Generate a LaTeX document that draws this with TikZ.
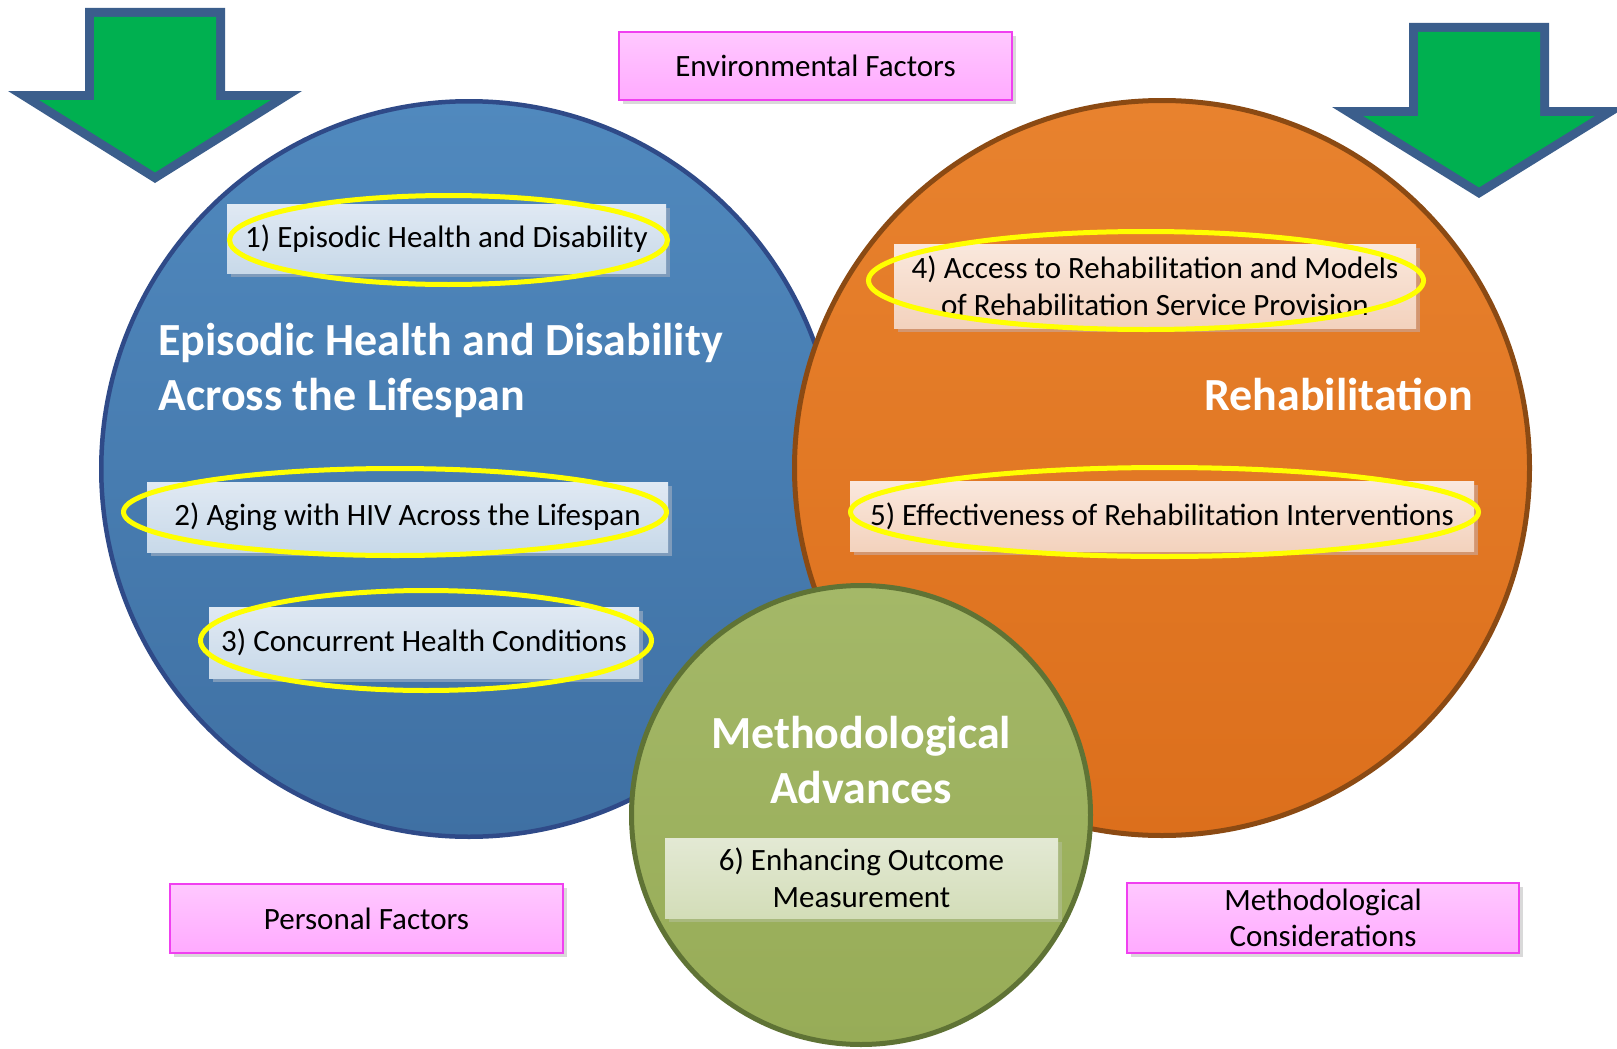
\documentclass[tikz,border=0pt]{standalone}
\usepackage{fontspec}
\setmainfont{Carlito}
\usetikzlibrary{shapes.geometric,shadows}
\definecolor{arrowgreen}{HTML}{00B050}
\definecolor{arrowedge}{HTML}{3B5E8C}
\definecolor{bluetop}{HTML}{5089BE}
\definecolor{bluebot}{HTML}{3F70A3}
\definecolor{blueedge}{HTML}{2F4A88}
\definecolor{orangetop}{HTML}{E8822E}
\definecolor{orangebot}{HTML}{DC6F1C}
\definecolor{orangeedge}{HTML}{8B4A13}
\definecolor{greentop}{HTML}{A4B868}
\definecolor{greenbot}{HTML}{97AC57}
\definecolor{greenedge}{HTML}{5F7335}
\definecolor{bbtop}{HTML}{E0E9F3}
\definecolor{bbbot}{HTML}{C8D9E9}
\definecolor{bbsh}{HTML}{7E9BBB}
\definecolor{obtop}{HTML}{FAE8DD}
\definecolor{obbot}{HTML}{F3D2BD}
\definecolor{obsh}{HTML}{D39670}
\definecolor{gbtop}{HTML}{E3E9D4}
\definecolor{gbbot}{HTML}{D3DDB8}
\definecolor{gbsh}{HTML}{A9B97E}
\definecolor{pktop}{HTML}{FFC8FF}
\definecolor{pkbot}{HTML}{FFAAFF}
\definecolor{pkedge}{HTML}{F040F0}
\definecolor{pksh}{HTML}{D9D9D9}
\definecolor{ringyellow}{HTML}{FFFF00}
\begin{document}
\begin{tikzpicture}[x=1pt,y=-1pt,
  lbl/.style={font=\fontsize{31}{36.6}\selectfont, text=black, align=center, inner sep=0pt},
  big/.style={font=\fontsize{46}{54.5}\selectfont\bfseries, text=white, inner sep=0pt},
  sz/.style 2 args={minimum width=#1pt, minimum height=#2pt},
  bluebox/.style={lbl, rectangle, top color=bbtop, bottom color=bbbot,
    drop shadow={shadow xshift=4pt,shadow yshift=-4pt,fill=bbsh,opacity=1}},
  orangebox/.style={lbl, rectangle, top color=obtop, bottom color=obbot,
    drop shadow={shadow xshift=4pt,shadow yshift=-4pt,fill=obsh,opacity=1}},
  greenbox/.style={lbl, rectangle, top color=gbtop, bottom color=gbbot,
    drop shadow={shadow xshift=4pt,shadow yshift=-4pt,fill=gbsh,opacity=1}},
  pinkbox/.style={lbl, rectangle, draw=pkedge, line width=1.5pt, top color=pktop, bottom color=pkbot,
    drop shadow={shadow xshift=4pt,shadow yshift=-4pt,fill=pksh,opacity=1}},
  ring/.style={ellipse, draw=ringyellow, line width=5pt, inner sep=0pt},
  bigcircle/.style={circle, inner sep=0pt},
  arrowouter/.style={fill=arrowedge},
  arrowinner/.style={fill=arrowgreen}
]
\useasboundingbox (0,0) rectangle (1617,1049);
\fill[white] (0,0) rectangle (1617,1049);

% arrows
\fill[arrowouter] (85,8) -- (225,8) -- (225,91) -- (302,91) -- (155,183) -- (8,91) -- (85,91) -- cycle;
\fill[arrowinner] (94,17) -- (216,17) -- (216,100) -- (270.7,100) -- (155,172.4) -- (39.3,100) -- (94,100) -- cycle;
\fill[arrowouter] (1409,23) -- (1549,23) -- (1549,107) -- (1626,107) -- (1479,198) -- (1332,107) -- (1409,107) -- cycle;
\fill[arrowinner] (1418,32) -- (1540,32) -- (1540,116) -- (1594.7,116) -- (1479,187.4) -- (1363.3,116) -- (1418,116) -- cycle;

% circles
\node[bigcircle, minimum size=735.5pt, top color=bluetop, bottom color=bluebot, draw=blueedge, line width=4.5pt] (blue) at (469,469) {};
\node[bigcircle, minimum size=735pt, top color=orangetop, bottom color=orangebot, draw=orangeedge, line width=5pt] (orange) at (1162,468) {};
\node[bigcircle, minimum size=459pt, top color=greentop, bottom color=greenbot, draw=greenedge, line width=5pt] (green) at (861,815) {};

% titles (base anchor = baseline of the last line)
\node[big, anchor=base west, align=left] (titleleft) at (158,410) {Episodic Health and Disability\\Across the Lifespan};
\node[big, anchor=base east] (titleright) at (1473,410) {Rehabilitation};
\node[big, anchor=base, align=center] (titlegreen) at (861,803) {Methodological\\Advances};

% topic boxes
\node[bluebox, sz={439}{69}] (b1) at (446.5,238.5) {1) Episodic Health and Disability};
\node[bluebox, sz={521}{70}] (b2) at (407.5,517) {2) Aging with HIV Across the Lifespan};
\node[bluebox, sz={430}{71}] (b3) at (424,642.5) {3) Concurrent Health Conditions};
\node[orangebox, sz={522}{84}] (b4) at (1155,286) {4) Access to Rehabilitation and Models\\of Rehabilitation Service Provision};
\node[orangebox, sz={624}{70}] (b5) at (1162,516) {5) Effectiveness of Rehabilitation Interventions};
\node[greenbox, sz={393}{80}] (b6) at (861.5,878) {6) Enhancing Outcome\\Measurement};

% yellow rings
\node[ring, minimum width=438pt, minimum height=89pt] (r1) at (448.5,240) {};
\node[ring, minimum width=543pt, minimum height=87pt] (r2) at (395,512) {};
\node[ring, minimum width=451pt, minimum height=100pt] (r3) at (426,640.5) {};
\node[ring, minimum width=555pt, minimum height=98pt] (r4) at (1146,280.5) {};
\node[ring, minimum width=628pt, minimum height=89pt] (r5) at (1164.5,512) {};

% factor boxes
\node[pinkbox, sz={393}{68}] (env) at (815.5,66) {Environmental Factors};
\node[pinkbox, sz={393}{69}] (pers) at (366.5,918.5) {Personal Factors};
\node[pinkbox, sz={392}{70}] (meth) at (1323,918) {Methodological\\Considerations};
\end{tikzpicture}
\end{document}
